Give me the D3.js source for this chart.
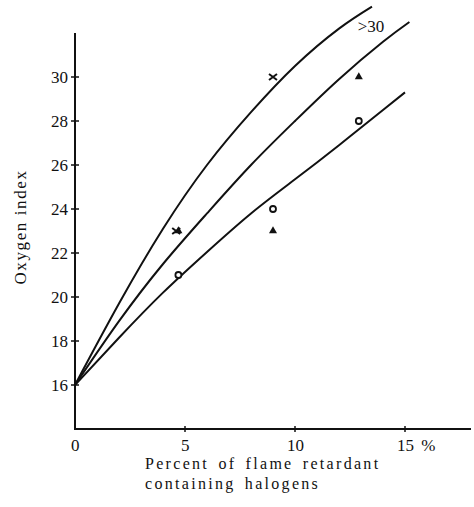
<!DOCTYPE html>
<html>
<head>
<meta charset="utf-8">
<script src="https://cdn.jsdelivr.net/npm/d3@7"></script>
<style>
  body { margin: 0; background: #fff; }
  svg text { font-family: "Liberation Serif", "Times New Roman", "DejaVu Serif", serif; fill: #111; }
</style>
</head>
<body>
<svg id="chart" width="474" height="507"></svg>
<script>
// curves (x = % flame retardant, y = oxygen index)
const curveTop = [[0, 16], [2, 19.7], [4, 23.1], [6, 26.0], [8, 28.4], [10, 30.5], [12, 32.2], [13.5, 33.2]];
const curveMid = [[0, 16], [2, 18.9], [4, 21.5], [6, 23.8], [8, 26.0], [10, 28.0], [12, 29.9], [14, 31.6], [15.2, 32.5]];
const curveLow = [[0, 16], [2, 18.15], [4, 20.2], [6, 22.05], [8, 23.8], [10, 25.35], [12, 26.9], [14, 28.5], [15, 29.3]];

// measured points
const crosses = [[4.6, 23], [9, 30]];
const triangles = [[4.7, 23], [9, 23], [12.9, 30]];
const circles = [[4.7, 21], [9, 24], [12.9, 28]];

const xTicks = [0, 5, 10, 15];
const yTicks = [16, 18, 20, 22, 24, 26, 28, 30];

const svg = d3.select("#chart");

const x = d3.scaleLinear().domain([0, 18]).range([75, 471]);
const y = d3.scaleLinear().domain([14, 32]).range([429, 33]);

// axes lines
svg.append("line")
  .attr("x1", x(0)).attr("x2", x(0))
  .attr("y1", y(32)).attr("y2", y(14))
  .attr("stroke", "#111").attr("stroke-width", 2);
svg.append("line")
  .attr("x1", x(0) - 1).attr("x2", x(18))
  .attr("y1", y(14)).attr("y2", y(14))
  .attr("stroke", "#111").attr("stroke-width", 2);

// y ticks (cross the axis)
svg.selectAll(".ytick")
  .data(yTicks)
  .enter()
  .append("line")
  .attr("x1", x(0) - 4).attr("x2", x(0) + 4)
  .attr("y1", d => y(d)).attr("y2", d => y(d))
  .attr("stroke", "#111").attr("stroke-width", 1.5);

svg.selectAll(".ylab")
  .data(yTicks)
  .enter()
  .append("text")
  .attr("x", x(0) - 7)
  .attr("y", d => y(d) + 6)
  .attr("text-anchor", "end")
  .style("font-size", "17px")
  .text(d => d);

// x ticks
svg.selectAll(".xtick")
  .data(xTicks.filter(d => d > 0))
  .enter()
  .append("line")
  .attr("x1", d => x(d)).attr("x2", d => x(d))
  .attr("y1", y(14) - 3).attr("y2", y(14) + 3)
  .attr("stroke", "#111").attr("stroke-width", 1.5);

svg.selectAll(".xlab")
  .data(xTicks)
  .enter()
  .append("text")
  .attr("x", d => x(d) - (d >= 10 ? 8 : 4))
  .attr("y", y(14) + 22)
  .style("font-size", "17px")
  .style("word-spacing", "3px")
  .text(d => d === 15 ? "15 %" : d);

// axis titles
svg.append("text")
  .attr("transform", `translate(26,${227}) rotate(-90)`)
  .attr("text-anchor", "middle")
  .style("font-size", "17px")
  .style("letter-spacing", "1.6px")
  .text("Oxygen index");

svg.append("text")
  .attr("x", 145).attr("y", 469)
  .style("font-size", "16px")
  .style("letter-spacing", "2.3px")
  .style("word-spacing", "3px")
  .text("Percent of flame retardant");

svg.append("text")
  .attr("x", 145).attr("y", 489)
  .style("font-size", "16px")
  .style("letter-spacing", "2.3px")
  .style("word-spacing", "3px")
  .text("containing halogens");

// curves
const line = d3.line()
  .x(d => x(d[0]))
  .y(d => y(d[1]))
  .curve(d3.curveNatural);

[curveTop, curveMid, curveLow].forEach(c => {
  svg.append("path")
    .datum(c)
    .attr("fill", "none")
    .attr("stroke", "#111")
    .attr("stroke-width", 2)
    .attr("d", line);
});

// ">30" note
svg.append("text")
  .attr("x", x(12.85)).attr("y", y(32.05))
  .style("font-size", "17px")
  .text(">30");

// markers
svg.selectAll(".cross")
  .data(crosses)
  .enter()
  .append("path")
  .attr("transform", d => `translate(${x(d[0])},${y(d[1])})`)
  .attr("d", "M-4,-3L4,3M-4,3L4,-3")
  .attr("stroke", "#111")
  .attr("stroke-width", 2);

svg.selectAll(".tri")
  .data(triangles)
  .enter()
  .append("path")
  .attr("transform", d => `translate(${x(d[0])},${y(d[1])})`)
  .attr("d", d3.symbol().type(d3.symbolTriangle).size(28))
  .attr("fill", "#111");

svg.selectAll(".circ")
  .data(circles)
  .enter()
  .append("circle")
  .attr("cx", d => x(d[0]))
  .attr("cy", d => y(d[1]))
  .attr("r", 3)
  .attr("fill", "#fff")
  .attr("stroke", "#111")
  .attr("stroke-width", 1.8);
</script>
</body>
</html>
